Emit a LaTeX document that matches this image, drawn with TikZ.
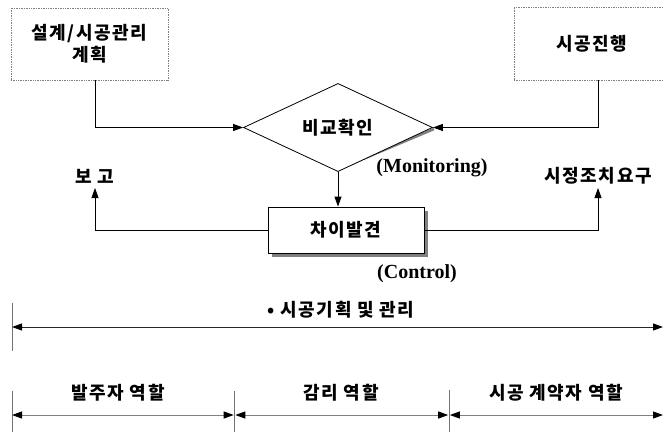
\documentclass[tikz,border=0pt]{standalone}
\usepackage{fontspec}
\setmainfont{Liberation Serif}
\newfontfamily\kr[LetterSpace=9]{Noto Sans CJK KR}
\usetikzlibrary{arrows.meta,shapes.geometric,shadows}
\begin{document}
\begin{tikzpicture}[x=1pt,y=-1pt,
  every node/.style={inner sep=0pt},
  krtext/.style={font=\kr\fontsize{18}{21}\selectfont\bfseries},
  entxt/.style={font=\fontsize{20}{22}\selectfont\bfseries},
  dotbox/.style={draw=gray, densely dotted, line width=0.7pt, krtext, align=center},
  link/.style={draw=black, line width=0.8pt},
  tip/.style={-{Triangle[length=10pt,width=7pt]}},
  span/.style={line width=1pt, {Triangle[length=10pt,width=7pt,color=black]}-{Triangle[length=10pt,width=7pt,color=black]}},
  tick/.style={draw=gray!90!black, line width=1pt}]
\useasboundingbox (0,0) rectangle (663,432);

% plan and progress boxes
\node[dotbox, minimum width=157pt, minimum height=72pt] (plan) at (89.5,44) {설계/시공관리\\[1pt]계획};
\node[dotbox, minimum width=156pt, minimum height=73pt] (prog) at (592,43.5) {시공진행};

% comparison diamond with its shadow edge
\draw[gray, line width=2.6pt] (339,169) -- (434,129);
\node[diamond, draw, line width=0.8pt, fill=white, minimum width=189pt, minimum height=79pt, krtext] (cmp) at (338,127.5) {비교확인};

% difference box with shadow
\node[draw, line width=0.8pt, fill=white, minimum width=156pt, minimum height=46pt, krtext,
  drop shadow={shadow xshift=3.5pt, shadow yshift=-3.5pt, fill=gray, opacity=1}] (dif) at (346,230) {차이발견};

% outcome labels
\node[krtext] (rep) at (95,176) {보 고};
\node[krtext] (act) at (598,176) {시정조치요구};
\node[entxt] (mon) at (432,168) {(Monitoring)};
\node[entxt] (ctl) at (417,274) {(Control)};

\coordinate (repbase) at (95,188);
\coordinate (actbase) at (598,188);

% connectors
\draw[link, tip] ([xshift=5.5pt]plan.south) |- (cmp.west);
\draw[link, tip] ([xshift=6pt]prog.south) |- (cmp.east);
\draw[link, tip] (cmp.south) -- (cmp.south |- dif.north);
\draw[link, tip] (dif.west) -| (repbase);
\draw[link, tip] (dif.east) -| (actbase);

% overall span
\node[krtext] (all) at (341,310) {• 시공기획 및 관리};
\coordinate (a0) at (12,327);
\coordinate (a1) at (663,327);
\coordinate (t0a) at (12,303);
\coordinate (t0b) at (12,351);
\draw[tick] (t0a) -- (t0b);
\draw[span, draw=black!85] (a0) -- (a1);

% role spans
\node[krtext] (own) at (118,393) {발주자 역할};
\node[krtext] (sup) at (341,393) {감리 역할};
\node[krtext] (con) at (556,393) {시공 계약자 역할};
\coordinate (b0) at (12,415);
\coordinate (b1) at (234.5,415);
\coordinate (b2) at (449,415);
\coordinate (b3) at (663,415);
\coordinate (u0) at (12,391);
\coordinate (v0) at (12,432);
\coordinate (u1) at (234.5,391);
\coordinate (v1) at (234.5,432);
\coordinate (u2) at (449,390);
\coordinate (v2) at (449,432);
\draw[tick] (u0) -- (v0);
\draw[tick] (u1) -- (v1);
\draw[tick] (u2) -- (v2);
\draw[span, draw=gray] (b0) -- ([xshift=-0.8pt]b1);
\draw[span, draw=gray] ([xshift=0.8pt]b1) -- ([xshift=-0.8pt]b2);
\draw[span, draw=gray] ([xshift=0.8pt]b2) -- (b3);
\end{tikzpicture}
\end{document}
